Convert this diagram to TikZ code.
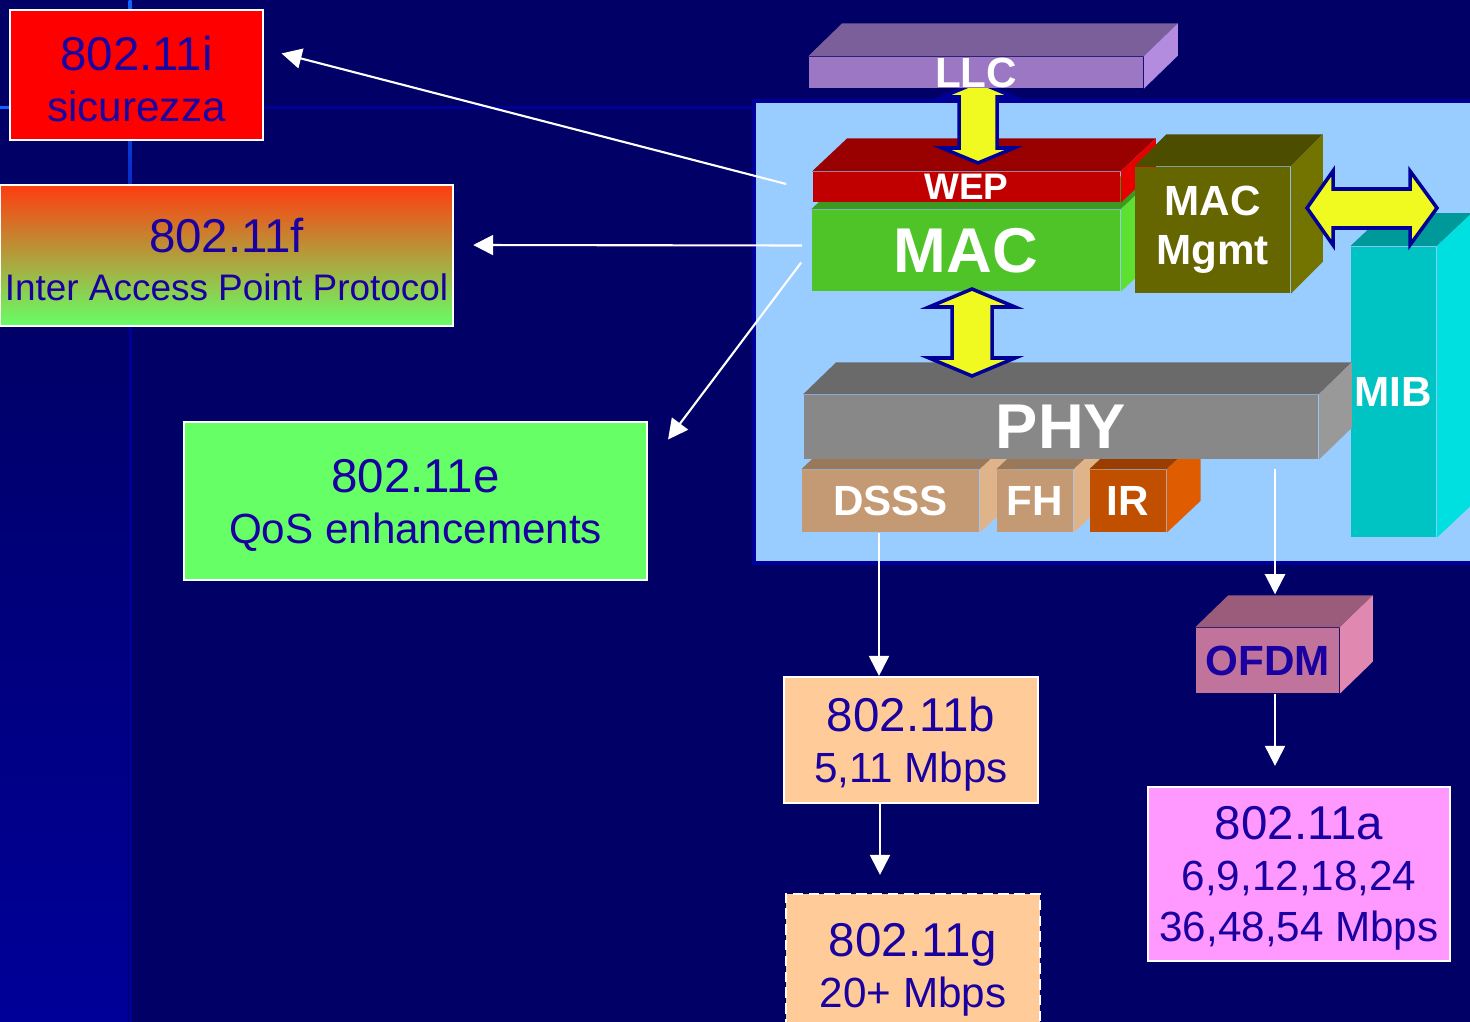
\documentclass[tikz,border=0pt]{standalone}
\usepackage{fontspec}
\setmainfont{Liberation Sans}
\usetikzlibrary{arrows.meta}

\definecolor{bgnavy}{RGB}{0,0,102}
\definecolor{stripblue}{RGB}{0,0,153}
\definecolor{lineblue}{RGB}{16,100,255}
\definecolor{panelblue}{RGB}{153,204,255}
\definecolor{txtblue}{RGB}{26,0,160}
\definecolor{fatyellow}{RGB}{240,250,32}
\definecolor{secred}{RGB}{255,0,0}
\definecolor{iapptop}{RGB}{255,60,16}
\definecolor{iappmid}{RGB}{200,168,72}
\definecolor{iappbot}{RGB}{102,255,102}
\definecolor{qosgreen}{RGB}{102,255,102}
\definecolor{peach}{RGB}{255,204,153}
\definecolor{pinka}{RGB}{255,153,255}
\definecolor{llcfront}{RGB}{155,119,196}
\definecolor{llctop}{RGB}{123,95,154}
\definecolor{llcside}{RGB}{179,140,224}
\definecolor{wepfront}{RGB}{192,0,0}
\definecolor{weptop}{RGB}{153,0,0}
\definecolor{wepside}{RGB}{230,0,0}
\definecolor{macfront}{RGB}{79,196,40}
\definecolor{mactop}{RGB}{60,154,32}
\definecolor{macside}{RGB}{94,224,48}
\definecolor{mgmtfront}{RGB}{102,102,0}
\definecolor{mgmttop}{RGB}{77,77,0}
\definecolor{mgmtside}{RGB}{115,115,0}
\definecolor{mibfront}{RGB}{0,196,196}
\definecolor{mibtop}{RGB}{0,153,153}
\definecolor{mibside}{RGB}{0,224,224}
\definecolor{phyfront}{RGB}{136,136,136}
\definecolor{phytop}{RGB}{106,106,106}
\definecolor{physide}{RGB}{153,153,153}
\definecolor{tanfront}{RGB}{196,154,116}
\definecolor{tantop}{RGB}{154,120,90}
\definecolor{tanside}{RGB}{224,180,138}
\definecolor{irfront}{RGB}{192,80,0}
\definecolor{irtop}{RGB}{153,61,0}
\definecolor{irside}{RGB}{224,92,0}
\definecolor{ofdmfront}{RGB}{192,116,156}
\definecolor{ofdmtop}{RGB}{154,92,122}
\definecolor{ofdmside}{RGB}{224,136,176}

\tikzstyle{stdbox} = [
    rectangle,
    draw=white,
    line width=0.6pt,
    inner sep=0pt,
    align=center,
    text=txtblue,
    font=\fontsize{12}{14.5}\selectfont
]
\tikzstyle{block} = [
    rectangle,
    inner sep=0pt,
    align=center,
    text=white,
    font=\bfseries\fontsize{12}{14}\selectfont
]
\tikzstyle{arrow} = [semithick, white, -{Triangle[length=0.2cm,width=0.2cm]}]
\tikzstyle{fatarrow} = [fill=fatyellow, draw=stripblue, line width=1pt, line join=miter]

\newcommand{\stdname}[1]{{\fontsize{13.5}{14.5}\selectfont\rule{0pt}{12pt}#1}}
% top and right faces of a block: node, depth, top colour, side colour
\newcommand{\slabfaces}[4]{%
  \fill[#3] (#1.north west) -- ([shift={#2}]#1.north west)
    -- ([shift={#2}]#1.north east) -- (#1.north east) -- cycle;
  \fill[#4] (#1.north east) -- ([shift={#2}]#1.north east)
    -- ([shift={#2}]#1.south east) -- (#1.south east) -- cycle;
}

\begin{document}
\begin{tikzpicture}[x=0.01cm, y=-0.01cm]

\useasboundingbox (0,0) rectangle (1470,1022);
\clip (0,0) rectangle (1470,1022);

% background
\fill[bgnavy] (0,0) rectangle (1470,1022);
\shade[top color=bgnavy, bottom color=stripblue] (0,300) rectangle (128,1022);
\shade[top color=lineblue, bottom color=stripblue] (128.5,0) rectangle (131.5,330);
\fill[stripblue] (128.5,330) rectangle (131.5,1022);
\fill[stripblue] (0,106.5) rectangle (754,109.5);
\fill[lineblue] (0,106.5) rectangle (10,109.5);

\draw[fill=panelblue, draw=stripblue, line width=1pt] (754,101) rectangle (1480,563);

% standards
\node (i) [stdbox, fill=secred, minimum width=2.53cm, minimum height=1.30cm]
    at (136.5,75) {\stdname{802.11i}\\sicurezza};

\node (f) [stdbox, top color=iapptop, middle color=iappmid, bottom color=iappbot,
    draw=white, minimum width=4.53cm, minimum height=1.41cm]
    at (226.5,255.5) {\stdname{802.11f}\\[-1pt]{\fontsize{10.5}{13}\selectfont Inter Access Point Protocol}};

\node (e) [stdbox, fill=qosgreen, minimum width=4.63cm, minimum height=1.58cm]
    at (415.5,501) {\stdname{802.11e}\\QoS enhancements};

\node (b) [stdbox, fill=peach, minimum width=2.54cm, minimum height=1.26cm]
    at (911,740) {\stdname{802.11b}\\5,11 Mbps};

\node (g) [stdbox, fill=peach, dash pattern=on 3pt off 1.5pt, minimum width=2.54cm, minimum height=1.42cm]
    at (913,965) {\stdname{802.11g}\\20+ Mbps};

\node (a) [stdbox, fill=pinka, minimum width=3.02cm, minimum height=1.74cm]
    at (1299,874) {\stdname{802.11a}\\6,9,12,18,24\\36,48,54 Mbps};

% MAC layer
\node (mac) [block, fill=macfront, font=\bfseries\fontsize{18}{20}\selectfont,
    minimum width=3.08cm, minimum height=0.81cm] at (966,250.5) {MAC};
\slabfaces{mac}{(35,-33)}{mactop}{macside}

\node (wep) [block, fill=wepfront, font=\bfseries\fontsize{10.5}{12}\selectfont,
    minimum width=3.07cm, minimum height=0.30cm] at (966.5,187) {WEP};
\slabfaces{wep}{(35,-33)}{weptop}{wepside}

\node (mgmt) [block, fill=mgmtfront, minimum width=1.55cm, minimum height=1.26cm]
    at (1212.5,230) {MAC\\Mgmt};
\slabfaces{mgmt}{(32,-32)}{mgmttop}{mgmtside}

\draw[fatarrow] (978,82) -- (1014,97) -- (997,97) -- (997,148) -- (1014,148) -- (978,163)
    -- (942,148) -- (959,148) -- (959,97) -- (942,97) -- cycle;

\node (llc) [block, fill=llcfront, minimum width=3.34cm, minimum height=0.31cm]
    at (976,72.5) {LLC};
\slabfaces{llc}{(34,-33)}{llctop}{llcside}

\node (mib) [block, fill=mibfront, minimum width=0.85cm, minimum height=2.90cm]
    at (1393.5,392) {MIB};
\slabfaces{mib}{(35,-33)}{mibtop}{mibside}

\draw[fatarrow] (1307,208) -- (1333,171) -- (1333,189) -- (1410,189) -- (1410,171) -- (1437,208)
    -- (1410,245) -- (1410,228) -- (1333,228) -- (1333,245) -- cycle;

% PHY layer
\node (dsss) [block, fill=tanfront, minimum width=1.77cm, minimum height=0.62cm]
    at (890.5,501) {DSSS};
\slabfaces{dsss}{(34,-32)}{tantop}{tanside}

\node (fh) [block, fill=tanfront, minimum width=0.76cm, minimum height=0.62cm]
    at (1035,501) {FH};
\slabfaces{fh}{(34,-32)}{tantop}{tanside}

\node (ir) [block, fill=irfront, minimum width=0.76cm, minimum height=0.62cm]
    at (1128,501) {IR};
\slabfaces{ir}{(34,-32)}{irtop}{irside}

\node (phy) [block, fill=phyfront, font=\bfseries\fontsize{18}{20}\selectfont,
    minimum width=5.14cm, minimum height=0.64cm] at (1061,427) {PHY};
\slabfaces{phy}{(33,-32)}{phytop}{physide}

\draw[fatarrow] (972,289) -- (1015,307) -- (992,307) -- (992,358) -- (1015,358) -- (972,376)
    -- (929,358) -- (952,358) -- (952,307) -- (929,307) -- cycle;

\node (ofdm) [block, fill=ofdmfront, text=txtblue, minimum width=1.43cm, minimum height=0.65cm]
    at (1267.5,660.5) {OFDM};
\slabfaces{ofdm}{(33,-32)}{ofdmtop}{ofdmside}

% connectors
\coordinate (toi) at ([shift={(-26,-3)}]wep.west);
\coordinate (tof) at ([shift={(-9,-5)}]mac.west);
\coordinate (toe) at ([shift={(-10,12)}]mac.west);
\coordinate (dsssout) at ([xshift=-0.115cm]dsss.south);
\coordinate (bout) at ([xshift=-0.31cm]b.south);
\coordinate (phyout) at ([shift={(214,9)}]phy.south);
\coordinate (ofdmin) at ([yshift=0.33cm]ofdm.north);
\coordinate (ofdmout) at ([xshift=0.075cm]ofdm.south);

\draw [arrow, shorten >=0.18cm] (toi) -- ([yshift=-0.4cm]i.north east);
\draw [arrow, shorten >=0.19cm] (tof) -- ([yshift=0.105cm]f.east);
\draw [arrow, shorten >=0.33cm] (toe) -- ([yshift=-0.45cm]e.north east);
\draw [arrow] (dsssout) -- (dsssout |- b.north);
\draw [arrow, shorten >=0.18cm] (bout) -- (bout |- g.north);
\draw [arrow] (phyout) -- (phyout |- ofdmin);
\draw [arrow, shorten >=0.2cm] (ofdmout) -- (ofdmout |- a.north);

\end{tikzpicture}
\end{document}
